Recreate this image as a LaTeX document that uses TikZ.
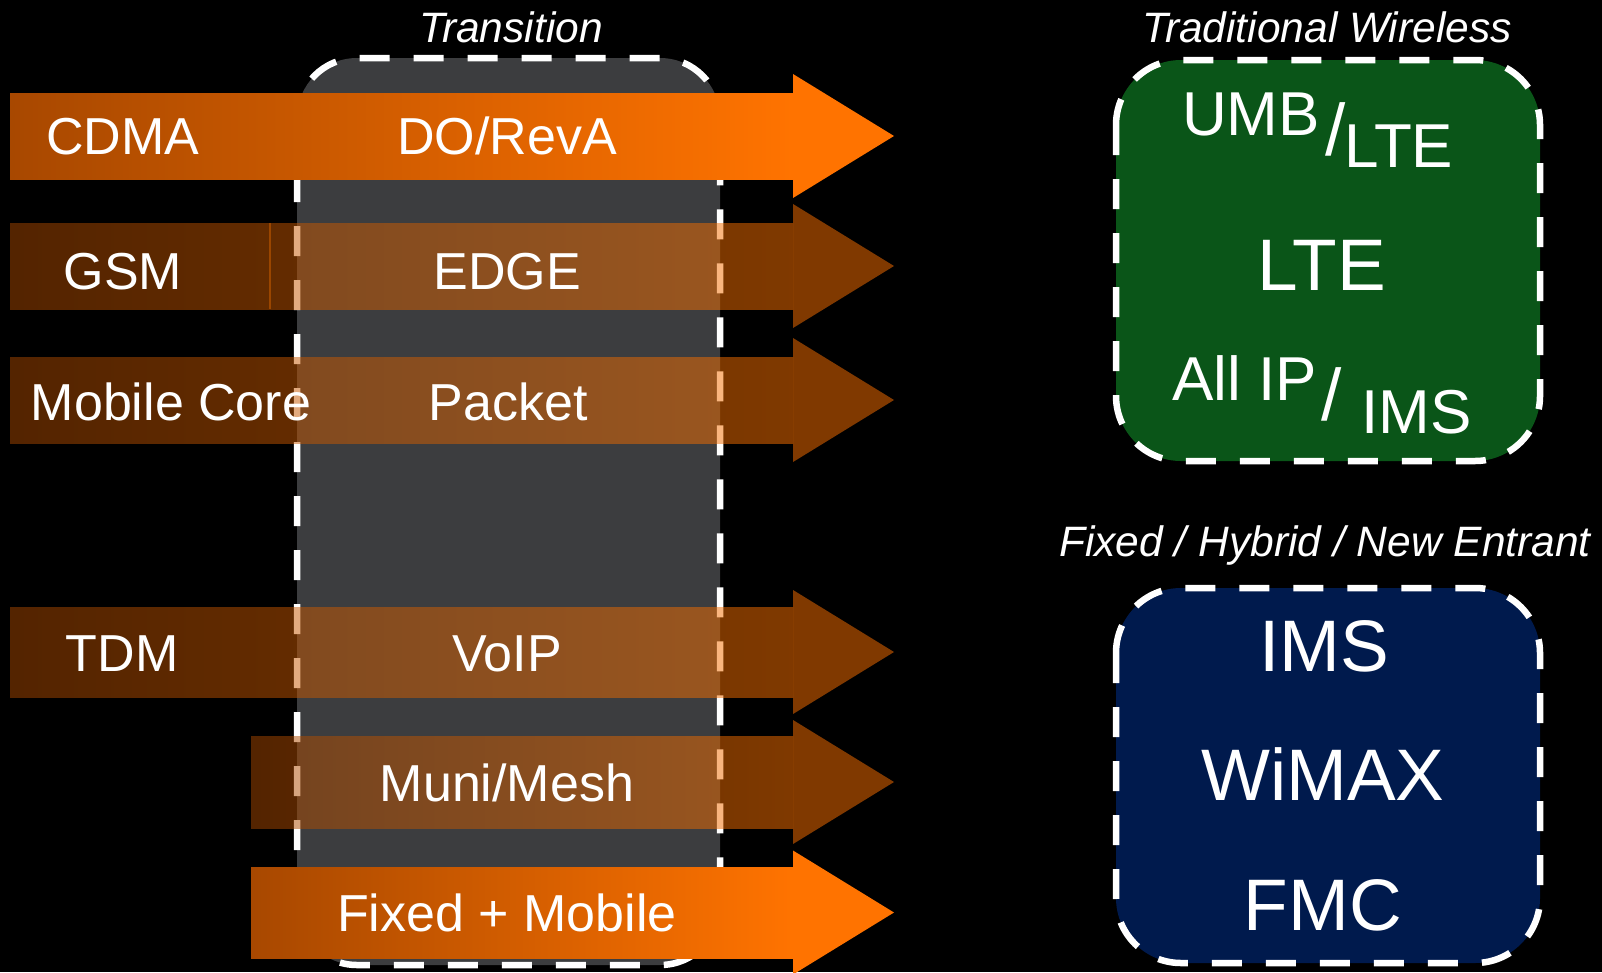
\documentclass[tikz,border=0pt]{standalone}
\usepackage{fontspec}
\setmainfont{Liberation Sans}
\definecolor{orL}{HTML}{A84800}
\definecolor{orR}{HTML}{FF7300}
\definecolor{trgray}{HTML}{3C3D3F}
\definecolor{wgreen}{HTML}{0A5518}
\definecolor{fblue}{HTML}{001A4D}
\definecolor{seam}{HTML}{9A4600}
\newcommand{\orarrow}[4]{% #1 left x, #2 centre y, #3 opacity, #4 body half height
  \shade[left color=orL, right color=orR, fill opacity=#3] ({#1},{#2-#4}) rectangle (793,{#2+#4});
  \fill[orR, fill opacity=#3] (793,{#2-62}) -- (894,{#2}) -- (793,{#2+62}) -- cycle;
}
\begin{document}
\begin{tikzpicture}[x=1pt,y=-1pt,
  dashbox/.style={draw=white, line width=6.5pt, dash pattern=on 30pt off 24pt, rounded corners=#1},
  lbl/.style={text=white, inner sep=0pt, anchor=base, font=\fontsize{52}{60}\selectfont},
  big/.style={text=white, inner sep=0pt, anchor=base, font=\fontsize{73}{80}\selectfont},
  mid/.style={text=white, inner sep=0pt, anchor=base west, font=\fontsize{62}{70}\selectfont},
  ttl/.style={text=white, inner sep=0pt, anchor=base, font=\fontsize{42.5}{48}\selectfont\itshape},
]
\useasboundingbox (0,0) rectangle (1602,972);
\fill[black] (0,0) rectangle (1602,972);

% transition box
\fill[trgray, rounded corners=60pt] (297,58) rectangle (720,965);
\draw[dashbox=60pt] (297,58) rectangle (720,965);

% right boxes
\fill[wgreen, rounded corners=65pt] (1116,60) rectangle (1540,461);
\draw[dashbox=65pt] (1116,60) rectangle (1540,461);
\fill[fblue, rounded corners=65pt] (1116,588) rectangle (1540,963);
\draw[dashbox=65pt] (1116,588) rectangle (1540,963);

% arrows
\orarrow{10}{266}{0.5}{43}
\orarrow{10}{400}{0.5}{43}
\orarrow{10}{652}{0.5}{45}
\orarrow{251}{782}{0.5}{46}
\orarrow{10}{136}{1}{43}
\orarrow{251}{912.5}{1}{45.5}
\draw[seam, line width=1.2pt] (270,223) -- (270,309);

% arrow labels
\node[lbl] (cdma) at (123,154) {CDMA};
\node[lbl] (dorev) at (507,154) {DO/RevA};
\node[lbl] (gsm) at (123,289) {GSM};
\node[lbl] (edge) at (507,289) {EDGE};
\node[lbl] (mcore) at (171,420) {Mobile Core};
\node[lbl] (packet) at (508,420) {Packet};
\node[lbl] (tdm) at (122,671) {TDM};
\node[lbl] (voip) at (507,671) {VoIP};
\node[lbl] (muni) at (507,801) {Muni/Mesh};
\node[lbl] (fixmob) at (507,931) {Fixed + Mobile};

% titles
\node[ttl] (trans) at (511,42) {Transition};
\node[ttl] (tradw) at (1327,42) {Traditional Wireless};
\node[ttl] (fixhy) at (1325,556) {Fixed / Hybrid / New Entrant};

% green box content
\node[mid] (umb) at (1182,135) {UMB};
\node[big, anchor=base west] (slA) at (1325,155) {/};
\node[mid] (ltesub) at (1344,167) {LTE};
\node[big] (lte) at (1322,290) {LTE};
\node[mid] (allip) at (1172,400) {All IP};
\node[big, anchor=base west] (slB) at (1321,420) {/};
\node[mid] (imssub) at (1361,433) {IMS};

% blue box content
\node[big] (ims) at (1324,671) {IMS};
\node[big] (wimax) at (1323,800) {WiMAX};
\node[big] (fmc) at (1323,930) {FMC};
\end{tikzpicture}
\end{document}
